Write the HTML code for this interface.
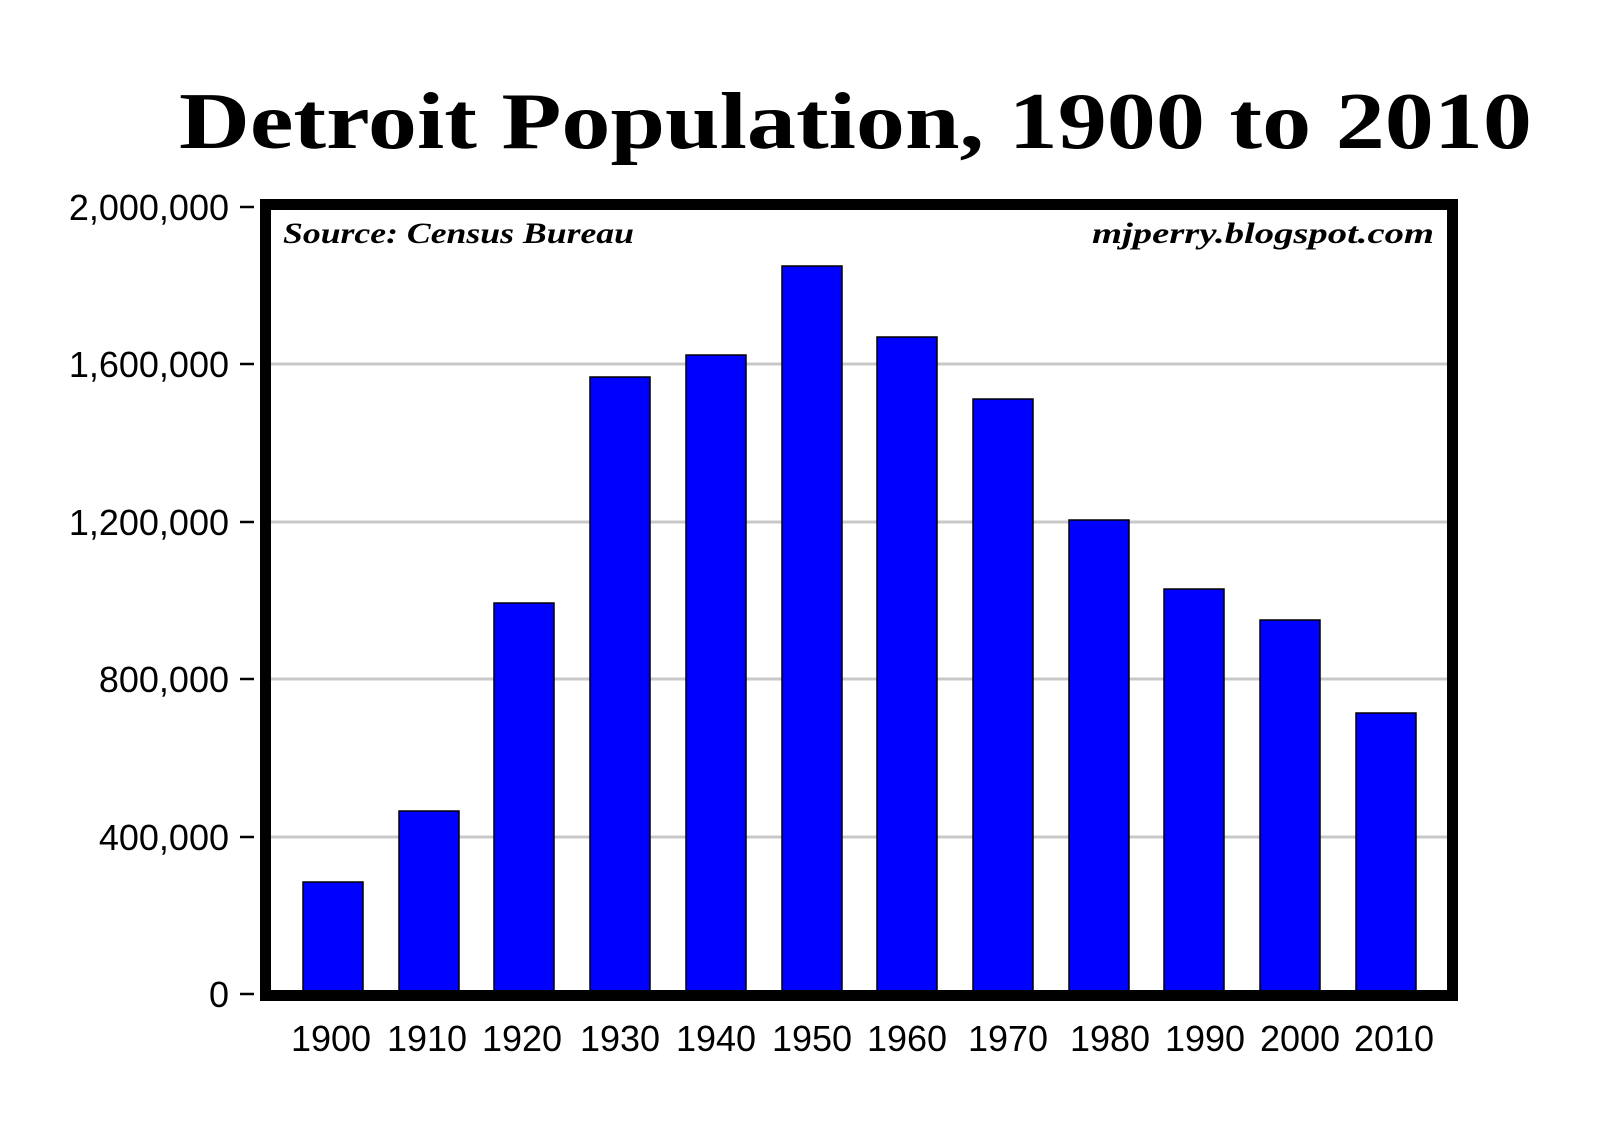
<!DOCTYPE html>
<html><head><meta charset="utf-8"><style>html,body{margin:0;padding:0;background:#fff}</style></head>
<body>
<svg width="1600" height="1130" xmlns="http://www.w3.org/2000/svg">
<rect width="1600" height="1130" fill="#fff"/>
<text x="179" y="148" font-family="Liberation Serif, serif" font-weight="bold" font-size="80" textLength="1353" lengthAdjust="spacingAndGlyphs">Detroit Population, 1900 to 2010</text>
<g stroke="#c8c8c8" stroke-width="3">
<line x1="271" x2="1447" y1="364" y2="364"/>
<line x1="271" x2="1447" y1="522" y2="522"/>
<line x1="271" x2="1447" y1="679" y2="679"/>
<line x1="271" x2="1447" y1="837" y2="837"/>
</g>
<g fill="#0000ff" stroke="#000" stroke-width="1.5">
<rect x="303" y="882" width="60" height="112"/>
<rect x="399" y="811" width="60" height="183"/>
<rect x="494" y="603" width="60" height="391"/>
<rect x="590" y="377" width="60" height="617"/>
<rect x="686" y="355" width="60" height="639"/>
<rect x="782" y="266" width="60" height="728"/>
<rect x="877" y="337" width="60" height="657"/>
<rect x="973" y="399" width="60" height="595"/>
<rect x="1069" y="520" width="60" height="474"/>
<rect x="1164" y="589" width="60" height="405"/>
<rect x="1260" y="620" width="60" height="374"/>
<rect x="1356" y="713" width="60" height="281"/>
</g>
<rect x="265.5" y="204.5" width="1187" height="791" fill="none" stroke="#000" stroke-width="11"/>
<text x="283" y="243" font-family="Liberation Serif, serif" font-weight="bold" font-style="italic" font-size="30" textLength="351" lengthAdjust="spacingAndGlyphs">Source: Census Bureau</text>
<text x="1092" y="243" font-family="Liberation Serif, serif" font-weight="bold" font-style="italic" font-size="30" textLength="342" lengthAdjust="spacingAndGlyphs">mjperry.blogspot.com</text>
<g font-family="Liberation Sans, sans-serif" font-size="36" text-anchor="end" fill="#000">
<text x="229" y="220">2,000,000</text>
<text x="229" y="377">1,600,000</text>
<text x="229" y="535">1,200,000</text>
<text x="229" y="692">800,000</text>
<text x="229" y="850">400,000</text>
<text x="229" y="1007">0</text>
</g>
<g stroke="#000" stroke-width="2.5">
<line x1="240" x2="254" y1="207" y2="207"/>
<line x1="240" x2="254" y1="364" y2="364"/>
<line x1="240" x2="254" y1="522" y2="522"/>
<line x1="240" x2="254" y1="679" y2="679"/>
<line x1="240" x2="254" y1="837" y2="837"/>
<line x1="240" x2="254" y1="994" y2="994"/>
</g>
<g font-family="Liberation Sans, sans-serif" font-size="36" text-anchor="middle" fill="#000">
<text x="331" y="1051">1900</text>
<text x="427" y="1051">1910</text>
<text x="522" y="1051">1920</text>
<text x="620" y="1051">1930</text>
<text x="716" y="1051">1940</text>
<text x="812" y="1051">1950</text>
<text x="907" y="1051">1960</text>
<text x="1008" y="1051">1970</text>
<text x="1110" y="1051">1980</text>
<text x="1205" y="1051">1990</text>
<text x="1300" y="1051">2000</text>
<text x="1394" y="1051">2010</text>
</g>
</svg>
</body></html>
